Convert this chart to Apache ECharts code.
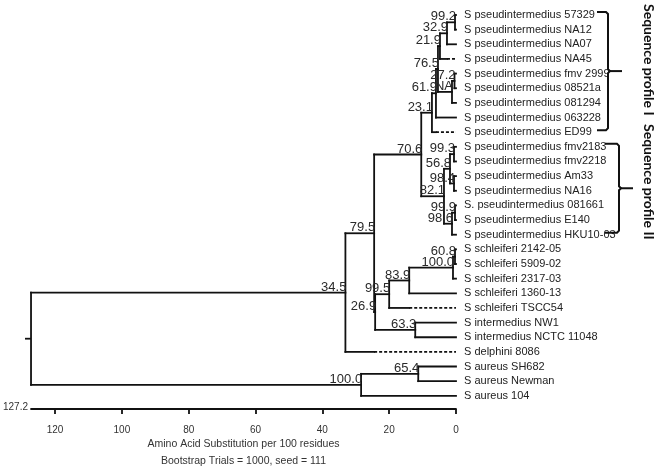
<!DOCTYPE html>
<html><head><meta charset="utf-8">
<script src="https://cdn.jsdelivr.net/npm/echarts@6/dist/echarts.min.js"></script>
<style>html,body{margin:0;padding:0;background:#fff}#c{width:660px;height:466px}</style>
</head><body><div id="c"></div>
<script>
// ---- data ----
const leafNames = [
 'S pseudintermedius 57329','S pseudintermedius NA12','S pseudintermedius NA07','S pseudintermedius NA45',
 'S pseudintermedius fmv 2999','S pseudintermedius 08521a','S pseudintermedius 081294','S pseudintermedius 063228',
 'S pseudintermedius ED99','S pseudintermedius fmv2183','S pseudintermedius fmv2218','S pseudintermedius Am33',
 'S pseudintermedius NA16','S. pseudintermedius 081661','S pseudintermedius E140','S pseudintermedius HKU10-03',
 'S schleiferi 2142-05','S schleiferi 5909-02','S schleiferi 2317-03','S schleiferi 1360-13','S schleiferi TSCC54',
 'S intermedius NW1','S intermedius NCTC 11048','S delphini 8086','S aureus SH682','S aureus Newman','S aureus 104'];
// distance from which a leaf branch is drawn dashed (null = solid)
const leafDashFrom = [null,null,null,2.7,null,null,null,null,6.0,null,null,null,null,null,null,null,
 null,null,null,null,14.0,null,null,24.5,null,null,null];
// internal nodes (children listed before parents): bootstrap label, distance, children
const nodeLabel  = ['99.2','32.9','21.9','27.2','NA','76.5','61.9','23.1','99.3','98.4','56.8','99.9','98.6','82.1','70.6',
                    '60.8','100.0','83.9','99.5','63.3','26.9','79.5','34.5','65.4','100.0',''];
const nodeHeight = [0.3,2.7,4.8,0.45,1.2,5.4,6.0,7.2,0.6,0.6,1.8,0.3,1.2,3.6,10.4,
                    0.3,0.9,14.0,20.0,12.2,24.2,24.5,33.1,11.3,28.4,127.2];
const nodeChildren = [['L0','L1'],['N0','L2'],['N1','L3'],['L4','L5'],['N3','L6'],['N2','N4'],['N5','L7'],['N6','L8'],
 ['L9','L10'],['L11','L12'],['N8','N9'],['L13','L14'],['N11','L15'],['N10','N12'],['N7','N13'],
 ['L16','L17'],['N15','L18'],['N16','L19'],['N17','L20'],['L21','L22'],['N18','N19'],['N14','N20'],['N21','L23'],
 ['L24','L25'],['N23','L26'],['N22','N24']];
const xTicks = [0,20,40,60,80,100,120];
const xMax = 127.2;
const profileNames = ['Sequence profile I','Sequence profile II'];
const profileStart = [0,9];
const profileEnd = [8,15];

// ---- build tree geometry in data units ----
const nodeY = [];
function yOf(id){ return id[0]==='L' ? +id.slice(1) : nodeY[+id.slice(1)]; }
function hOf(id){ return id[0]==='L' ? 0 : nodeHeight[+id.slice(1)]; }
nodeChildren.forEach((ch,i)=>{ nodeY[i] = (yOf(ch[0]) + yOf(ch[1]))/2; });
const segs = [];
nodeChildren.forEach((ch,i)=>{
  const h = nodeHeight[i];
  segs.push([h, yOf(ch[0]), h, yOf(ch[1]), 0]);
  ch.forEach(c=>{
    const y = yOf(c);
    if (c[0]==='L' && leafDashFrom[+c.slice(1)] != null) {
      const d = leafDashFrom[+c.slice(1)];
      segs.push([h, y, d, y, 0]);
      segs.push([d, y, 0, y, 1]);
    } else segs.push([h, y, hOf(c), y, 0]);
  });
});
const rootIdx = nodeChildren.length-1;
const nodeLabelData = nodeLabel.map((t,i)=>[nodeHeight[i], nodeY[i]]);
const leafData = leafNames.map((n,i)=>[0,i]);
const profileData = profileNames.map((n,i)=>[profileStart[i], profileEnd[i]]);

const FONT = '"Liberation Sans", Arial, sans-serif';
const LW = 1.8;
const chart = echarts.init(document.getElementById('c'), null, {renderer:'canvas'});
chart.setOption({
  animation:false,
  backgroundColor:'#fff',
  grid:{left:31,right:204,top:15,bottom:57},
  xAxis:{type:'value',inverse:true,min:0,max:xMax,position:'bottom',
    name:String(xMax),nameLocation:'end',nameGap:3,
    nameTextStyle:{fontSize:10,color:'#333',fontFamily:FONT,verticalAlign:'bottom',padding:[0,0,-3,0]},
    axisLine:{show:true,onZero:false,lineStyle:{color:'#111',width:LW}},
    axisTick:{show:true,customValues:xTicks,length:5,lineStyle:{color:'#111',width:LW}},
    axisLabel:{customValues:xTicks,fontSize:10,color:'#333',fontFamily:FONT,margin:16},
    splitLine:{show:false}},
  yAxis:{type:'value',inverse:true,min:0,max:26.9,show:false},
  graphic:[
    {type:'text',style:{text:'Amino Acid Substitution per 100 residues',x:243.5,y:444,align:'center',verticalAlign:'middle',font:'10.5px '+FONT,fill:'#333'}},
    {type:'text',style:{text:'Bootstrap Trials = 1000, seed = 111',x:243.5,y:461,align:'center',verticalAlign:'middle',font:'10.5px '+FONT,fill:'#333'}}
  ],
  series:[
    {type:'custom',coordinateSystem:'cartesian2d',clip:false,data:segs,encode:{x:[0,2],y:[1,3]},
     renderItem:(params,api)=>{
       const p1=api.coord([api.value(0),api.value(1)]), p2=api.coord([api.value(2),api.value(3)]);
       const dashed=api.value(4)===1;
       return {type:'line',shape:{x1:p1[0],y1:p1[1],x2:p2[0],y2:p2[1]},
         style:{stroke:'#111',lineWidth:LW,lineCap:dashed?'butt':'square',lineDash:dashed?[3,2]:null}};
     }},
    {type:'custom',coordinateSystem:'cartesian2d',clip:false,data:nodeLabelData,encode:{x:0,y:1},
     renderItem:(params,api)=>{
       const p=api.coord([api.value(0),api.value(1)]);
       const i=params.dataIndex;
       if(i===rootIdx){
         return {type:'line',shape:{x1:p[0]-6,y1:p[1],x2:p[0],y2:p[1]},style:{stroke:'#111',lineWidth:LW}};
       }
       return {type:'text',style:{text:nodeLabel[i],x:p[0]+1,y:p[1]+1,align:'right',verticalAlign:'bottom',
         font:'13px '+FONT,fill:'#2a2a2a'}};
     }},
    {type:'custom',coordinateSystem:'cartesian2d',clip:false,data:leafData,encode:{x:0,y:1},
     renderItem:(params,api)=>{
       const p=api.coord([api.value(0),api.value(1)]);
       return {type:'text',style:{text:leafNames[params.dataIndex],x:p[0]+8,y:p[1],align:'left',verticalAlign:'middle',
         font:'11px '+FONT,fill:'#222'}};
     }},
    {type:'custom',coordinateSystem:'cartesian2d',clip:false,data:profileData,encode:{y:[0,1]},
     renderItem:(params,api)=>{
       const i=params.dataIndex;
       const y1=api.coord([0,api.value(0)])[1]-3, y2=api.coord([0,api.value(1)])[1]-2;
       const xv=[608,619][i], xl=[597,605][i], xt=[622,633][i];
       const ym=(y1+y2)/2;
       const ts=[4,124][i];
       return {type:'group',children:[
         {type:'polyline',shape:{points:[[xl,y1],[xv-2,y1],[xv,y1+2],[xv,ym-2],[xv+2,ym],[xv,ym+2],[xv,y2-2],[xv-2,y2],[xl,y2]]},
          style:{stroke:'#111',lineWidth:2,fill:null}},
         {type:'line',shape:{x1:xv+2,y1:ym,x2:xt,y2:ym},style:{stroke:'#111',lineWidth:2}},
         {type:'text',x:649,y:ts,rotation:-Math.PI/2,style:{text:profileNames[i],x:0,y:0,align:'left',verticalAlign:'middle',
           font:'bold 14px Lato, sans-serif',fill:'#111'}}
       ]};
     }}
  ]
});
</script></body></html>
